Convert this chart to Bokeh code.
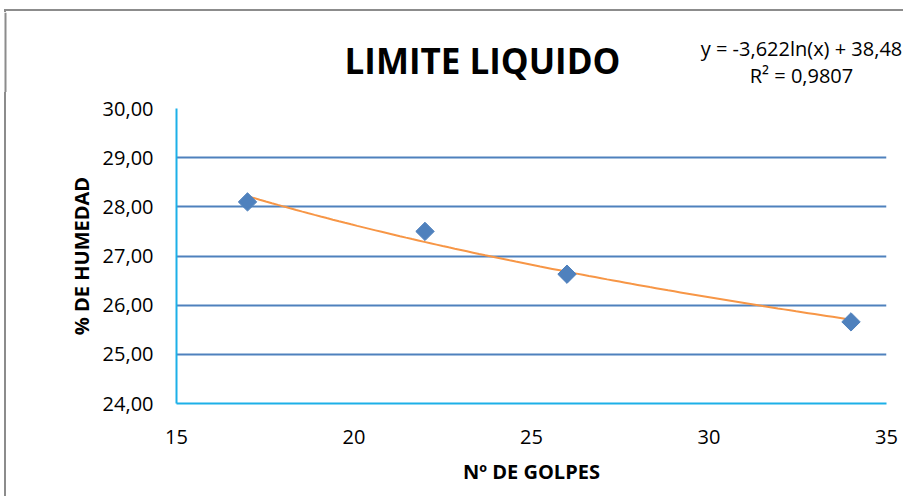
from bokeh.plotting import figure
from bokeh.layouts import column, row
from bokeh.models import FixedTicker, Range1d, Div
from bokeh.core.properties import value
from bokeh.embed import file_html
from bokeh.resources import INLINE
import numpy as np

# ---------------- data ----------------
golpes = [17, 22, 26, 34]
humedad = [28.10, 27.50, 26.63, 25.66]
trend_a = -3.622
trend_b = 38.48
title_text = "LIMITE LIQUIDO"
eq_text = "y = -3,622ln(x) + 38,48"
r2_text = "R² = 0,9807"
y_ticks = [24, 25, 26, 27, 28, 29, 30]
y_labels = ["24,00", "25,00", "26,00", "27,00", "28,00", "29,00", "30,00"]
x_ticks = [15, 20, 25, 30, 35]

FONT = "Open Sans"
W, H = 903, 496
TOP_H = 12
HEAD_H = 92
STRIP_W = 8
MAIN_W = W - STRIP_W
MAIN_H = H - HEAD_H
FL, FT, FR, FB = 176, 108, 886, 403          # frame edges in page px
BORDER = "#8C8C8C"

# ---------------- top border strip ----------------
top = Div(text="", width=W, height=TOP_H, margin=0,
          styles={"background": ("linear-gradient(%s, %s) 4px 9px / %dpx 2px no-repeat, "
                                 "linear-gradient(%s, %s) 4px 9px / 2px 3px no-repeat, white")
                                % (BORDER, BORDER, W - 4, BORDER, BORDER)})

# ---------------- header (title + trendline equation) ----------------
head = figure(width=W, height=HEAD_H - TOP_H, output_backend="svg", toolbar_location=None,
              x_range=Range1d(0, W), y_range=Range1d(HEAD_H, TOP_H),
              x_axis_type=None, y_axis_type=None, min_border=0)
head.grid.visible = False
head.outline_line_color = None
head.background_fill_color = "white"
head.border_fill_color = "white"
head.quad(left=[4], right=[6], top=[TOP_H], bottom=[HEAD_H], fill_color=BORDER, line_color=None)
head.text(x=[482], y=[60], text=[title_text], text_font=value(FONT), text_font_style="bold",
          text_font_size="35px", text_align="center", text_baseline="middle", text_color="#000000")
head.text(x=[801, 801], y=[48, 75], text=[eq_text, r2_text], text_font=value(FONT),
          text_font_size="20px", text_align="center", text_baseline="middle", text_color="#000000")

# ---------------- left border strip ----------------
strip = Div(text="", width=STRIP_W, height=MAIN_H, margin=0,
            styles={"background": "linear-gradient(to right, white 4px, %s 4px, %s 6px, white 6px)" % (BORDER, BORDER)})

# ---------------- main chart ----------------
fl, fr = FL - STRIP_W, FR - STRIP_W
ft, fb = FT - HEAD_H, FB - HEAD_H
p = figure(width=MAIN_W, height=MAIN_H, output_backend="svg", toolbar_location=None,
           x_range=Range1d(15, 35), y_range=Range1d(24, 30),
           min_border_left=fl, min_border_right=MAIN_W - fr,
           min_border_top=ft, min_border_bottom=MAIN_H - fb)
p.outline_line_color = None
p.background_fill_color = "white"
p.border_fill_color = "white"

p.xgrid.visible = False
p.ygrid.grid_line_color = "#4F81BD"
p.ygrid.grid_line_width = 2
p.yaxis.ticker = FixedTicker(ticks=y_ticks)
p.xaxis.ticker = FixedTicker(ticks=x_ticks)
p.yaxis.major_label_overrides = {t: l for t, l in zip(y_ticks, y_labels)}

for ax in (p.xaxis[0], p.yaxis[0]):
    ax.axis_line_color = "#1CB0E8"
    ax.axis_line_width = 2
    ax.major_tick_line_color = None
    ax.minor_tick_line_color = None
    ax.major_label_text_font = FONT
    ax.major_label_text_font_size = "20px"
    ax.major_label_text_color = "#000000"
    ax.axis_label_text_font = FONT
    ax.axis_label_text_font_style = "bold"
    ax.axis_label_text_font_size = "20px"
    ax.axis_label_text_color = "#000000"

p.xaxis.axis_label = "Nº DE GOLPES"
p.yaxis.axis_label = "% DE HUMEDAD"
p.xaxis.major_label_standoff = 20
p.yaxis.major_label_standoff = 17
p.xaxis.axis_label_standoff = 11
p.yaxis.axis_label_standoff = 5

xs = np.linspace(min(golpes), max(golpes), 100)
ys = trend_a * np.log(xs) + trend_b
p.line(xs, ys, line_color="#F79646", line_width=2)
p.scatter(golpes, humedad, marker="square", angle=np.pi / 4, size=13,
          fill_color="#4F81BD", line_color="#4F81BD")

layout = column(top, head, row(strip, p, spacing=0), spacing=0)
open("out.html", "w").write(file_html(layout, INLINE))
